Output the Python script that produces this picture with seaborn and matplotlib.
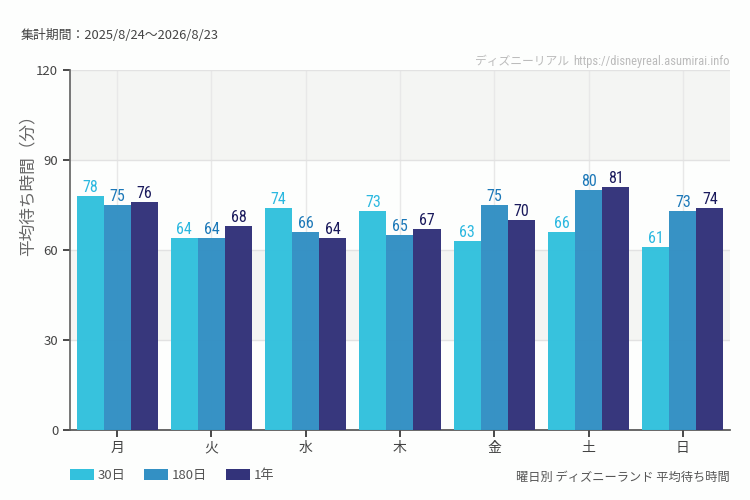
import matplotlib
matplotlib.use("Agg")
import matplotlib.pyplot as plt
import seaborn as sns
import pandas as pd
from matplotlib.patches import Patch
from matplotlib import font_manager

days = ["月", "火", "水", "木", "金", "土", "日"]
series_names = ["30日", "180日", "1年"]
v30 = [78, 64, 74, 73, 63, 66, 61]
v180 = [75, 64, 66, 65, 75, 80, 73]
v1y = [76, 68, 64, 67, 70, 81, 74]
yticks = [0, 30, 60, 90, 120]

bar_colors = ["#33c1dd", "#3390c4", "#33337a"]
label_colors = ["#2bb8e0", "#1c78b8", "#1a1a5c"]

df = pd.DataFrame({
    "day": days * 3,
    "series": [s for s in series_names for _ in days],
    "value": v30 + v180 + v1y,
})

sns.set_theme(style="white")
plt.rcParams["font.family"] = ["Noto Sans CJK JP", "DejaVu Sans"]

names = {f.name for f in font_manager.fontManager.ttflist}
cands = ["Roboto Condensed", "Liberation Sans Narrow", "Open Sans Condensed",
         "DejaVu Sans Condensed", "Roboto"]
narrow = [c for c in cands if c in names] or ["DejaVu Sans"]
narrow = narrow[0]

fig = plt.figure(figsize=(7.5, 5), dpi=100, facecolor="#fdfefd")
ax = fig.add_axes([0.0933, 0.14, 0.88, 0.72])
ax.set_facecolor("#fdfefd")

for lo, hi, c in [(30, 60, "#f4f5f3"), (90, 120, "#f4f5f3")]:
    ax.axhspan(lo, hi, color=c, zorder=0, lw=0)

sns.barplot(data=df, x="day", y="value", hue="series", order=days,
            hue_order=series_names, palette=bar_colors, width=0.86,
            dodge=True, saturation=1, ax=ax, legend=False,
            zorder=3, edgecolor="none", linewidth=0)
for p in ax.patches:
    p.set_alpha(0.98)

ax.set_ylim(0, 120)
ax.set_xlim(-0.5, 6.5)
ax.set_yticks(yticks)
ax.yaxis.grid(True, color="#e2e2e2", lw=1, zorder=1)
ax.xaxis.grid(True, color="#e8e8e8", lw=1, zorder=1)
ax.set_axisbelow(True)
for s in ["top", "right"]:
    ax.spines[s].set_visible(False)
ax.spines["left"].set_color("#666666")
ax.spines["bottom"].set_color("#555555")
ax.tick_params(axis="y", length=5, color="#333333", labelsize=9.5, labelcolor="#444444", direction="out", left=True)
ax.tick_params(axis="x", length=5, color="#333333", labelsize=10, labelcolor="#444444", direction="out", bottom=True, pad=3)
ax.set_xlabel("")
ax.set_ylabel("平均待ち時間（分）", fontsize=12, color="#666666")
ax.yaxis.set_label_coords(-0.05, 0.69)

for i, cont in enumerate(ax.containers):
    ax.bar_label(cont, labels=[str(int(b.get_height())) for b in cont],
                 padding=1, fontsize=11.5, color=label_colors[i],
                 family=[narrow, "DejaVu Sans"])

fig.text(0.028, 0.922, "集計期間：2025/8/24〜2026/8/23", fontsize=9.3, color="#444444")
t = fig.text(0.973, 0.87, "https://disneyreal.asumirai.info", fontsize=9,
             color="#bbbbbb", ha="right", family=[narrow, "DejaVu Sans"])
fig.canvas.draw()
bb = t.get_window_extent()
fig.text((bb.x0 - 4) / 750, 0.87, "ディズニーリアル", fontsize=8.5,
         color="#bbbbbb", ha="right")

fig.text(0.973, 0.038, "曜日別 ディズニーランド 平均待ち時間", fontsize=8.8,
         color="#555555", ha="right")

handles = [Patch(facecolor=c, edgecolor="none") for c in bar_colors]
fig.legend(handles, series_names, loc="lower left", bbox_to_anchor=(0.078, 0.012),
           ncol=3, frameon=False, fontsize=9.5, labelcolor="#555555",
           handlelength=1.8, handleheight=0.9, handletextpad=0.3, columnspacing=1.4)

fig.savefig("out.png", dpi=100, facecolor=fig.get_facecolor())
